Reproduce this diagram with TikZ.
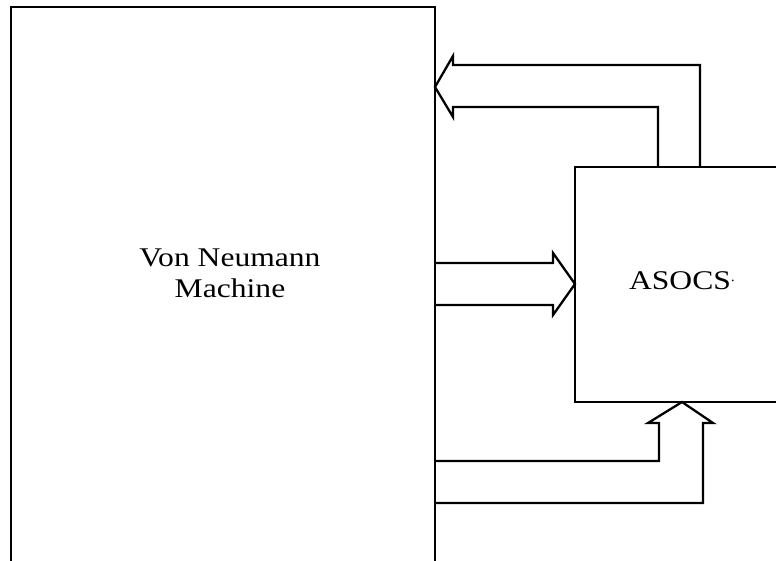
\documentclass[tikz,border=0pt]{standalone}
\usepackage{fontspec}
\setmainfont{Liberation Serif}
\newfontfamily\labelfont[FakeStretch=1.17]{Liberation Serif}
\begin{document}
\begin{tikzpicture}[x=1pt,y=1pt,
  outline/.style={draw=black,line width=2.3pt,line join=miter},
  lbl/.style={font=\labelfont\fontsize{27}{31}\selectfont,align=center,inner sep=0pt}]
\useasboundingbox (0,0) rectangle (776,-561);
% main box (open at bottom)
\coordinate (vnBL) at (11,-561);
\coordinate (vnTL) at (11,-7);
\coordinate (vnTR) at (435,-7);
\coordinate (vnBR) at (435,-561);
\draw[outline] (vnBL) -- (vnTL) -- (vnTR) -- (vnBR);
% ASOCS box (open at right)
\coordinate (asTR) at (776,-167);
\coordinate (asTL) at (575,-167);
\coordinate (asBL) at (575,-402);
\coordinate (asBR) at (776,-402);
\draw[outline] (asTR) -- (asTL) -- (asBL) -- (asBR);
% labels
\node[lbl,anchor=base] (vn1) at (230,-267) {Von Neumann};
\node[lbl,anchor=base] (vn2) at (230,-298) {Machine};
\node[lbl,anchor=base] (as) at (682,-290) {ASOCS\raisebox{0.32em}{\scalebox{0.5}{.}}};
% top arrow: ASOCS -> Von Neumann
\draw[outline] (700,-167) -- (700,-65) -- (453,-65) -- (453,-56) -- (435,-87)
  -- (453,-117) -- (453,-107) -- (658,-107) -- (658,-167);
% middle arrow: Von Neumann -> ASOCS
\draw[outline] (435,-263) -- (553,-263) -- (553,-253) -- (575,-284)
  -- (553,-315) -- (553,-305) -- (435,-305);
% bottom arrow: Von Neumann -> ASOCS (from below)
\draw[outline] (435,-461) -- (659,-461) -- (659,-423) -- (648,-423) -- (682,-402)
  -- (713,-423) -- (703,-423) -- (703,-503) -- (435,-503);
\end{tikzpicture}
\end{document}
